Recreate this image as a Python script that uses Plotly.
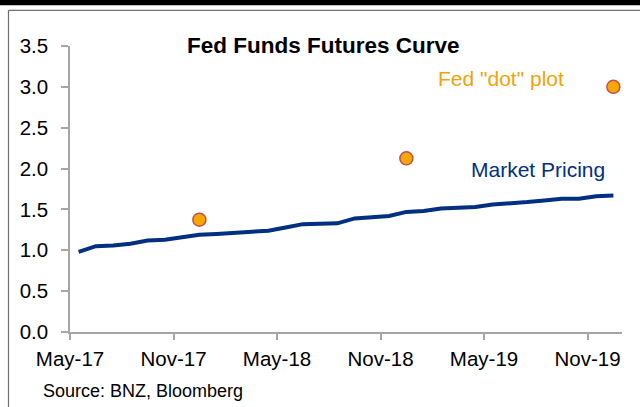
import plotly.graph_objects as go

# Monthly categories May-17 .. Dec-19
months = ["May-17", "Jun-17", "Jul-17", "Aug-17", "Sep-17", "Oct-17", "Nov-17", "Dec-17",
          "Jan-18", "Feb-18", "Mar-18", "Apr-18", "May-18", "Jun-18", "Jul-18", "Aug-18",
          "Sep-18", "Oct-18", "Nov-18", "Dec-18", "Jan-19", "Feb-19", "Mar-19", "Apr-19",
          "May-19", "Jun-19", "Jul-19", "Aug-19", "Sep-19", "Oct-19", "Nov-19", "Dec-19"]
market_pricing = [0.98, 1.05, 1.06, 1.08, 1.12, 1.13, 1.16, 1.19,
                  1.20, 1.21, 1.23, 1.24, 1.28, 1.32, 1.325, 1.33,
                  1.39, 1.40, 1.42, 1.47, 1.48, 1.51, 1.52, 1.53,
                  1.56, 1.57, 1.59, 1.61, 1.63, 1.63, 1.66, 1.67]
dot_months = ["Dec-17", "Dec-18", "Dec-19"]
dot_values = [1.375, 2.125, 3.0]
tick_labels = ["May-17", "Nov-17", "May-18", "Nov-18", "May-19", "Nov-19"]
y_ticks = [0.0, 0.5, 1.0, 1.5, 2.0, 2.5, 3.0, 3.5]

# category positions (centre of each monthly slot)
xpos = {m: i + 0.5 for i, m in enumerate(months)}
tick_vals = [months.index(t) for t in tick_labels]

FONT = "Liberation Sans, Arial, sans-serif"
NAVY = "#00307F"
ORANGE = "#F5A800"

fig = go.Figure()
fig.add_trace(go.Scatter(
    x=[xpos[m] for m in months], y=market_pricing, mode="lines",
    line=dict(color=NAVY, width=4), hoverinfo="skip", showlegend=False))
fig.add_trace(go.Scatter(
    x=[xpos[m] for m in dot_months], y=dot_values, mode="markers",
    marker=dict(color=ORANGE, size=13, line=dict(color="#C0504D", width=1.5)),
    hoverinfo="skip", showlegend=False))

# pixel geometry of plot area
L, R, T, B = 70, 18, 45.7, 75.3
W, H = 640 - L - R, 407 - T - B
def px(x):
    return (x - L) / W
def py(y):
    return (407 - B - y) / H

fig.update_layout(
    width=640, height=407,
    margin=dict(l=L, r=R, t=T, b=B),
    paper_bgcolor="white", plot_bgcolor="white",
    font=dict(family=FONT, size=20.5, color="#000000"),
    xaxis=dict(range=[0, len(months)], tickmode="array", tickvals=tick_vals,
               ticktext=tick_labels, showgrid=False, zeroline=False,
               showline=True, linecolor="#A6A6A6", linewidth=1.5,
               ticks="outside", ticklen=6, tickcolor="#A6A6A6", tickwidth=1.5,
               tickfont=dict(size=20.5, family=FONT), ticklabelstandoff=2,
               fixedrange=True),
    yaxis=dict(range=[0, 3.5], tickmode="array", tickvals=y_ticks,
               ticktext=[f"{v:.1f}" for v in y_ticks], showgrid=False,
               zeroline=False, showline=True, linecolor="#A6A6A6", linewidth=1.5,
               ticks="outside", ticklen=7, tickcolor="#A6A6A6", tickwidth=1.5,
               tickfont=dict(size=20.5, family=FONT), ticklabelstandoff=9,
               fixedrange=True),
    shapes=[
        dict(type="rect", xref="paper", yref="paper", x0=px(-5), x1=px(650),
             y0=py(5), y1=py(-5), fillcolor="black", line=dict(width=0), layer="above"),
        dict(type="line", xref="paper", yref="paper", x0=px(8.5), x1=px(8.5),
             y0=py(10), y1=py(420), line=dict(color="#707070", width=1.2)),
        dict(type="line", xref="paper", yref="paper", x0=px(8.5), x1=px(650),
             y0=py(10), y1=py(10), line=dict(color="#707070", width=1.2)),
    ],
    annotations=[
        dict(text="<b>Fed Funds Futures Curve</b>", xref="paper", yref="paper",
             x=px(323), y=py(45), xanchor="center", yanchor="middle", showarrow=False,
             font=dict(size=22.5, family=FONT, color="black")),
        dict(text="Fed \"dot\" plot", xref="paper", yref="paper",
             x=px(501), y=py(78), xanchor="center", yanchor="middle", showarrow=False,
             font=dict(size=21, family=FONT, color="#F0A30A")),
        dict(text="Market Pricing", xref="paper", yref="paper",
             x=px(538), y=py(169), xanchor="center", yanchor="middle", showarrow=False,
             font=dict(size=21, family=FONT, color=NAVY)),
        dict(text="Source: BNZ, Bloomberg", xref="paper", yref="paper",
             x=px(41), y=py(391), xanchor="left", yanchor="middle", showarrow=False,
             font=dict(size=18, family=FONT, color="black")),
    ],
)

fig.write_html("out.html", config={"displayModeBar": False})
